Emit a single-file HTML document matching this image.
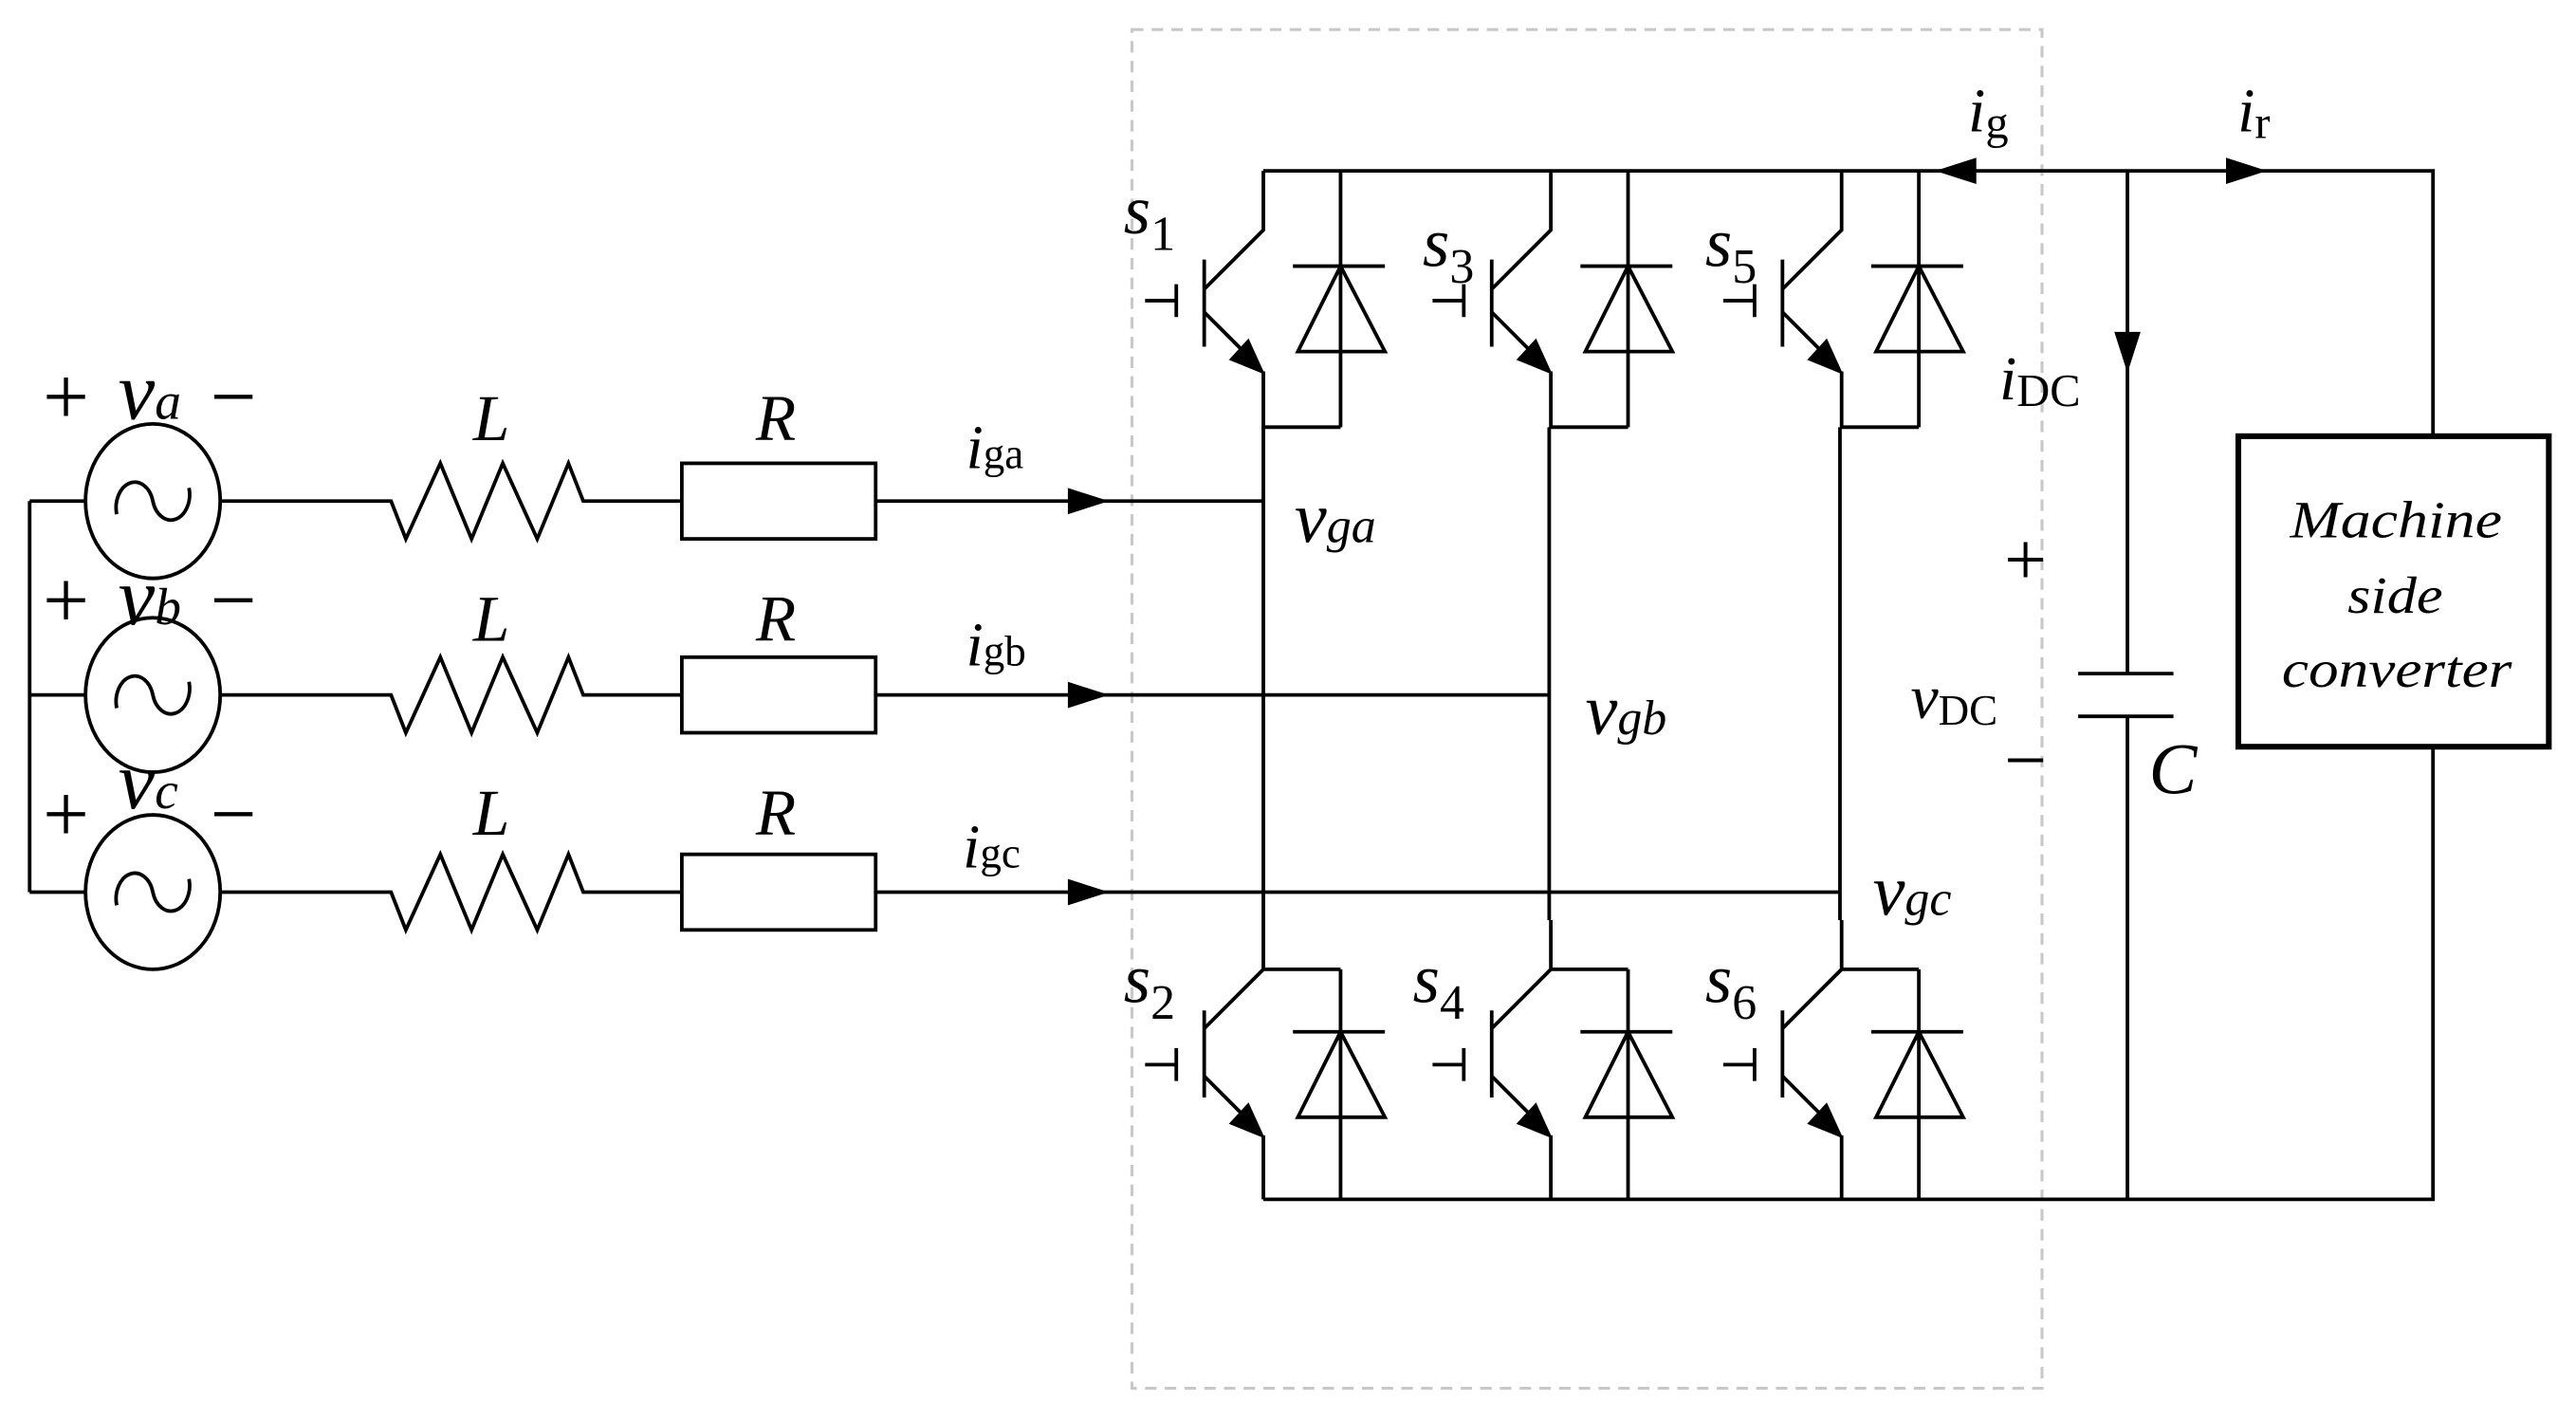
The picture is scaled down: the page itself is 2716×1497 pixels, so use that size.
<!DOCTYPE html>
<html><head><meta charset="utf-8"><style>
html,body{margin:0;padding:0;background:#fff}
svg{display:block}
text{font-family:"Liberation Serif",serif;fill:#000}
.it{font-style:italic}
</style></head><body>
<svg width="2716" height="1497" viewBox="0 0 1568 864.3" xmlns="http://www.w3.org/2000/svg">
<defs>
<g id="topsw" stroke="#000" stroke-width="2.2" fill="none">
  <path d="M769,104 V140 L733,176"/>
  <path d="M733,158 V211"/>
  <path d="M697,183 H716 M716,173 V193"/>
  <path d="M733,190 L760,217"/>
  <polygon points="770,228 748,219 760,206" fill="#000" stroke="none"/>
  <path d="M769,226 V260 H816"/>
  <path d="M816,104 V260"/>
  <path d="M787,162 H843"/>
  <path d="M816,162 L790,214 H843 Z"/>
</g>
<g id="botsw" stroke="#000" stroke-width="2.2" fill="none">
  <path d="M769,560 V590 L733,626 M769,590 H816"/>
  <path d="M733,615 V668"/>
  <path d="M697,648 H716 M716,638 V658"/>
  <path d="M733,655 L760,682"/>
  <polygon points="770,693 748,684 760,671" fill="#000" stroke="none"/>
  <path d="M769,691 V730"/>
  <path d="M816,590 V730"/>
  <path d="M787,628 H843"/>
  <path d="M816,628 L790,680 H843 Z"/>
</g>
<g id="row" stroke="#000" stroke-width="2.2" fill="none">
  <ellipse cx="93" cy="0" rx="41" ry="47"/>
  <path d="M71,8 A11,15 0 0 1 93,0 A11,15 0 0 0 115,-8"/>
  <path d="M134,0 H238 L247,23 L268,-23 L287,23 L306,-23 L327,23 L346,-23 L355,0 H415"/>
  <rect x="415" y="-23" width="118" height="46"/>
  <path d="M18,0 H52"/>
</g>
</defs>

<rect x="689" y="18" width="554" height="827" fill="none" stroke="#c8c8c8" stroke-width="1.8" stroke-dasharray="7,5"/>

<use href="#row" y="305"/>
<use href="#row" y="423"/>
<use href="#row" y="543"/>
<path d="M18,305 V543" stroke="#000" stroke-width="2.2"/>

<g stroke="#000" stroke-width="2.2" fill="none">
  <path d="M533,305 H769"/>
  <path d="M533,423 H943"/>
  <path d="M533,543 H1120"/>
  <path d="M769,104 H1481 V265 M1481,455 V730 H769"/>
  <path d="M769,260 V560 M943,260 V560 M1120,260 V560"/>
  <path d="M1295,104 V410 M1265,410 H1323 M1265,436 H1323 M1295,436 V730"/>
  <rect x="1362.5" y="265.5" width="189" height="189" stroke-width="3.5"/>
</g>
<g fill="#000">
  <polygon points="675,305 650,297 650,313"/>
  <polygon points="675,423 650,415 650,431"/>
  <polygon points="675,543 650,535 650,551"/>
  <polygon points="1295,227 1287,202 1303,202"/>
  <polygon points="1178,104 1203,96 1203,112"/>
  <polygon points="1380,104 1355,96 1355,112"/>
</g>

<use href="#topsw"/>
<use href="#topsw" x="175"/>
<use href="#topsw" x="352"/>
<use href="#botsw"/>
<use href="#botsw" x="175"/>
<use href="#botsw" x="352"/>

<g font-size="50">
  <text x="26" y="258">+</text><text x="72" y="255" class="it" font-size="50">v<tspan font-size="32">a</tspan></text><text x="128" y="258">−</text>
  <text x="26" y="382">+</text><text x="72" y="380" class="it" font-size="50">v<tspan font-size="32">b</tspan></text><text x="128" y="382">−</text>
  <text x="26" y="512">+</text><text x="72" y="492" class="it" font-size="50">v<tspan font-size="32">c</tspan></text><text x="128" y="512">−</text>
</g>
<g font-size="40" class="it">
  <text x="288" y="268">L</text><text x="460" y="268">R</text>
  <text x="288" y="390">L</text><text x="460" y="390">R</text>
  <text x="288" y="508">L</text><text x="460" y="508">R</text>
</g>
<g font-size="38">
  <text x="588" y="285" class="it">i<tspan font-size="26" font-style="normal">ga</tspan></text>
  <text x="588" y="405" class="it">i<tspan font-size="26" font-style="normal">gb</tspan></text>
  <text x="586" y="528" class="it">i<tspan font-size="26" font-style="normal">gc</tspan></text>
</g>
<g font-size="44" class="it">
  <text x="788" y="330">v<tspan font-size="30">ga</tspan></text>
  <text x="965" y="447">v<tspan font-size="30">gb</tspan></text>
  <text x="1140" y="557">v<tspan font-size="30">gc</tspan></text>
</g>
<g font-size="42">
  <text x="684" y="142" class="it">s<tspan font-size="30" font-style="normal" dy="10">1</tspan></text>
  <text x="866" y="162" class="it">s<tspan font-size="30" font-style="normal" dy="10">3</tspan></text>
  <text x="1038" y="162" class="it">s<tspan font-size="30" font-style="normal" dy="10">5</tspan></text>
  <text x="684" y="610" class="it">s<tspan font-size="30" font-style="normal" dy="10">2</tspan></text>
  <text x="860" y="610" class="it">s<tspan font-size="30" font-style="normal" dy="10">4</tspan></text>
  <text x="1038" y="610" class="it">s<tspan font-size="30" font-style="normal" dy="10">6</tspan></text>
</g>
<g font-size="38">
  <text x="1198" y="80" class="it">i<tspan font-size="28" font-style="normal" dy="4">g</tspan></text>
  <text x="1362" y="80" class="it">i<tspan font-size="28" font-style="normal" dy="4">r</tspan></text>
  <text x="1217" y="243" class="it">i<tspan font-size="28" font-style="normal" dy="4">DC</tspan></text>
  <text x="1163" y="437" class="it">v<tspan font-size="26" font-style="normal" dy="4">DC</tspan></text>
  <text x="1220" y="356" font-size="46">+</text>
  <text x="1220" y="478" font-size="46">−</text>
  <text x="1308" y="483" class="it" font-size="44">C</text>
</g>
<g font-size="32" class="it">
  <text x="1394" y="327" textLength="129" lengthAdjust="spacingAndGlyphs">Machine</text>
  <text x="1429" y="373" textLength="58" lengthAdjust="spacingAndGlyphs">side</text>
  <text x="1389" y="418" textLength="140" lengthAdjust="spacingAndGlyphs">converter</text>
</g>
</svg>
</body></html>
